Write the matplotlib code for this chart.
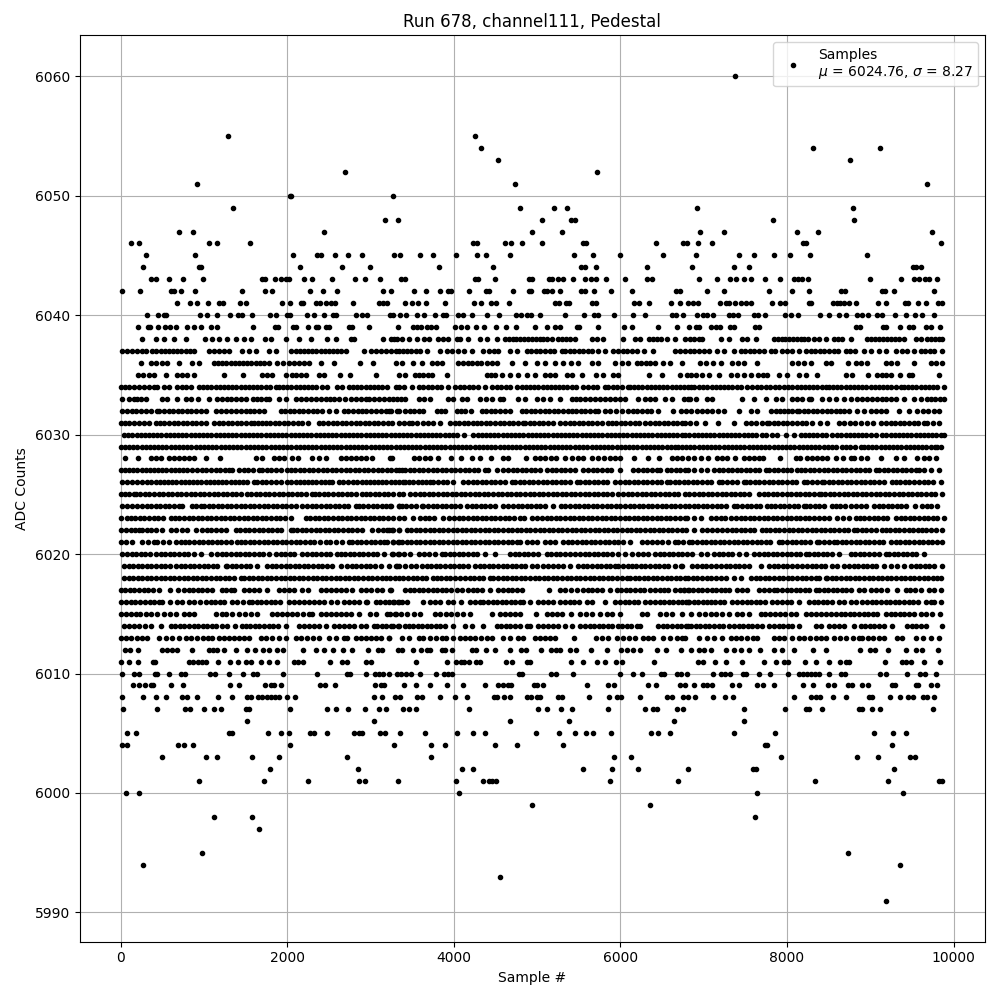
import matplotlib
matplotlib.use('Agg')
import matplotlib.pyplot as plt

# sample numbers, one list per ADC level
adc_6060 = [7380]
adc_6055 = [1292, 4256]
adc_6054 = [4328, 8316, 9120]
adc_6053 = [4532, 8760]
adc_6052 = [2696, 5724]
adc_6051 = [920, 4736, 9684]
adc_6050 = [2028, 2048, 3272]
adc_6049 = [1352, 4796, 5208, 5364, 6924, 8796]
adc_6048 = [3176, 3332, 5064, 5412, 5460, 7836, 8808]
adc_6047 = [704, 872, 2444, 4940, 5304, 6960, 7248, 8124, 8376, 9744]
adc_6046 = [128, 224, 1064, 1160, 1556, 4232, 4280, 4616, 4688, 4820, 5064, 5556, 5592, 6432, 6756, 6804, 6936, 7104, 8196, 8232, 9852]
adc_6045 = [308, 896, 2072, 2360, 2400, 2576, 2732, 2900, 3284, 3356, 3596, 3752, 4028, 4280, 4388, 4676, 5448, 5676, 6000, 6516, 6912, 7428, 7608, 7848, 8040, 8280, 8964]
adc_6044 = [272, 940, 968, 2156, 2660, 2996, 3824, 4472, 5532, 5580, 5712, 6324, 6864, 7368, 7548, 9516, 9552, 9612]
adc_6043 = [368, 420, 584, 752, 992, 1700, 1732, 1856, 1928, 1980, 2020, 2204, 2300, 2540, 2816, 2936, 3116, 3368, 3416, 4256, 4292, 4496, 4900, 4940, 5140, 5180, 5248, 5316, 5436, 5580, 5652, 5712, 5832, 6060, 6324, 6384, 6948, 7164, 7320, 7392, 7488, 7572, 7740, 7920, 8088, 8136, 8184, 8256, 9000, 9372, 9528, 9588, 9660, 9708, 9796]
adc_6042 = [20, 236, 608, 636, 728, 896, 1460, 1736, 1820, 2276, 2432, 2600, 3152, 3240, 3524, 3668, 3836, 3932, 3964, 4184, 4388, 4428, 4712, 4900, 4924, 5084, 5120, 5184, 5280, 5532, 5580, 5688, 5892, 6144, 6672, 6720, 7044, 7248, 7788, 8064, 8268, 8652, 8700, 9144, 9180, 9288, 9768]
adc_6041 = [680, 836, 920, 1052, 1184, 1232, 1436, 1508, 1940, 2036, 2168, 2192, 2348, 2396, 2460, 2528, 2572, 2792, 3104, 3152, 3200, 3416, 3500, 3564, 3668, 3896, 4244, 4328, 4448, 4508, 4664, 5220, 5268, 5352, 5388, 5664, 5712, 6168, 6228, 6348, 6612, 6720, 6816, 6876, 6936, 7200, 7272, 7308, 7380, 7452, 7512, 7572, 7824, 7920, 7980, 8268, 8292, 8556, 8604, 8640, 8688, 8748, 8832, 9096, 9192, 9420, 9456, 9576, 9672, 9816, 9864]
adc_6040 = [320, 452, 524, 548, 956, 1040, 1160, 1316, 1412, 1460, 1580, 1796, 1868, 2000, 2036, 2240, 2324, 2444, 2552, 2588, 2828, 2900, 2960, 3236, 3272, 3356, 3428, 3560, 3644, 3776, 3872, 3908, 4052, 4112, 4220, 4400, 4544, 4748, 4812, 4880, 4932, 5040, 5340, 5568, 5688, 5736, 5928, 6156, 6300, 6624, 6672, 6756, 6924, 6996, 7044, 7116, 7308, 7356, 7416, 7608, 7656, 7740, 7980, 8052, 8136, 8400, 8508, 8628, 8712, 8844, 8904, 8976, 9084, 9144, 9300, 9432, 9540, 9624, 9768]
adc_6039 = [212, 332, 356, 452, 536, 596, 668, 800, 884, 968, 1088, 1160, 1592, 1856, 1892, 2072, 2108, 2252, 2348, 2372, 2468, 2504, 2744, 2780, 2984, 3332, 3512, 3560, 3608, 3680, 3728, 3788, 4016, 4088, 4160, 4268, 4364, 4508, 4628, 4748, 4980, 5124, 5220, 5280, 5484, 5508, 5736, 6048, 6144, 6456, 6684, 6828, 6912, 6948, 7092, 7152, 7200, 7320, 7368, 7620, 7668, 8832, 8880, 9156, 9192, 9360, 9468, 9516, 9672, 9732, 9840]
adc_6038 = [260, 420, 524, 644, 780, 1012, 1096, 1184, 1280, 1380, 1480, 1568, 1728, 1800, 1988, 2140, 2288, 2480, 2588, 2760, 2800, 3152, 3240, 3276, 3320, 3372, 3456, 3560, 3640, 3700, 3816, 3876, 3936, 4036, 4076, 4176, 4316, 4396, 4516, 4616, 4660, 4708, 4752, 4800, 4848, 4892, 4940, 4984, 5030, 5076, 5120, 5176, 5256, 5300, 5350, 5400, 5456, 5656, 5716, 5796, 6036, 6176, 6236, 6340, 6388, 6436, 6484, 6556, 6656, 6776, 6840, 6890, 6940, 6984, 7204, 7304, 7464, 7524, 7624, 7844, 7890, 7936, 7980, 8028, 8072, 8120, 8164, 8210, 8256, 8324, 8384, 8464, 8564, 8612, 8660, 8764, 8964, 9012, 9060, 9108, 9156, 9204, 9252, 9300, 9348, 9404, 9544, 9604, 9684, 9730, 9776, 9820, 9864]
adc_6037 = [20, 80, 140, 200, 250, 300, 380, 430, 480, 530, 580, 630, 680, 730, 780, 830, 880, 1060, 1120, 1180, 1240, 1300, 1452, 1540, 1620, 1780, 1860, 2040, 2100, 2150, 2200, 2250, 2300, 2350, 2400, 2450, 2500, 2550, 2600, 2650, 2700, 2920, 3000, 3060, 3120, 3180, 3240, 3300, 3340, 3390, 3440, 3490, 3540, 3596, 3676, 3836, 3916, 3976, 4056, 4128, 4216, 4356, 4420, 4480, 4536, 4676, 4756, 4876, 4930, 4985, 5040, 5095, 5150, 5205, 5296, 5336, 5390, 5445, 5500, 5555, 5610, 5656, 5736, 5816, 5916, 5976, 6030, 6085, 6140, 6196, 6288, 6396, 6656, 6720, 6780, 6836, 6884, 6950, 7010, 7064, 7164, 7244, 7364, 7444, 7500, 7555, 7610, 7665, 7720, 7804, 7852, 7944, 8004, 8064, 8144, 8224, 8284, 8340, 8395, 8450, 8505, 8560, 8615, 8704, 8756, 8820, 8924, 9004, 9104, 9184, 9304, 9380, 9444, 9524, 9604, 9660, 9715, 9770, 9864]
adc_6036 = [248, 360, 420, 500, 560, 704, 860, 940, 1120, 1170, 1220, 1270, 1320, 1370, 1420, 1470, 1520, 1570, 1620, 1670, 1720, 1780, 1880, 1950, 2020, 2080, 2140, 2200, 2260, 2400, 2564, 2868, 3028, 3300, 3380, 3504, 3616, 3736, 3796, 3856, 4056, 4110, 4165, 4220, 4275, 4330, 4396, 4456, 4516, 4696, 4856, 4996, 5096, 5216, 5316, 5408, 5496, 5656, 5736, 5936, 6016, 6096, 6196, 6250, 6305, 6360, 6416, 6516, 6596, 6736, 6960, 7032, 7112, 7204, 7344, 7414, 7484, 7636, 8064, 8134, 8204, 8284, 8464, 8524, 8732, 8824, 8894, 8964, 9184, 9254, 9324, 9524, 9724, 9790, 9864]
adc_6035 = [212, 270, 335, 400, 540, 680, 740, 800, 880, 1240, 1472, 1700, 1760, 1820, 1988, 2060, 2110, 2160, 2228, 2380, 2440, 2628, 2752, 3060, 3336, 3416, 3536, 3586, 3636, 3686, 3736, 3916, 4396, 4446, 4496, 4576, 4676, 4776, 4876, 4976, 5096, 5156, 5216, 5356, 5416, 5536, 5704, 5796, 5916, 5976, 6344, 6496, 6716, 6796, 6850, 6904, 6984, 7064, 7184, 7324, 7404, 7484, 7564, 7656, 7710, 7764, 7904, 7996, 8144, 8224, 8364, 8704, 8784, 8976, 9084, 9140, 9190, 9244, 9356, 9464, 9504, 9824]
adc_6034 = [8, 50, 100, 160, 220, 280, 340, 400, 440, 520, 580, 680, 735, 790, 840, 940, 990, 1040, 1090, 1140, 1190, 1240, 1290, 1340, 1390, 1440, 1490, 1540, 1590, 1640, 1690, 1740, 1790, 1860, 1900, 1950, 2000, 2050, 2100, 2150, 2200, 2250, 2300, 2350, 2420, 2480, 2600, 2660, 2740, 2790, 2840, 2890, 2940, 2990, 3040, 3090, 3140, 3200, 3300, 3340, 3400, 3496, 3576, 3630, 3685, 3740, 3795, 3850, 3936, 4016, 4070, 4125, 4180, 4235, 4290, 4376, 4456, 4516, 4570, 4625, 4676, 4756, 4816, 4865, 4915, 4965, 5015, 5065, 5115, 5165, 5215, 5265, 5315, 5365, 5415, 5465, 5556, 5616, 5670, 5725, 5816, 5856, 5910, 5965, 6020, 6096, 6116, 6165, 6215, 6265, 6315, 6365, 6415, 6465, 6515, 6565, 6615, 6665, 6715, 6765, 6816, 6844, 6884, 6944, 6995, 7045, 7095, 7145, 7195, 7245, 7295, 7345, 7395, 7445, 7524, 7584, 7635, 7684, 7744, 7800, 7855, 7910, 7964, 8015, 8065, 8115, 8165, 8215, 8265, 8315, 8365, 8415, 8464, 8504, 8555, 8605, 8655, 8705, 8755, 8805, 8855, 8905, 8955, 9005, 9055, 9105, 9155, 9205, 9255, 9305, 9364, 9404, 9455, 9505, 9555, 9605, 9655, 9705, 9755, 9805, 9884]
adc_6033 = [12, 100, 160, 200, 240, 308, 500, 560, 680, 780, 840, 932, 1060, 1160, 1220, 1275, 1330, 1385, 1440, 1500, 1588, 1640, 1690, 1740, 1780, 1900, 1980, 2100, 2160, 2220, 2280, 2340, 2400, 2460, 2510, 2560, 2620, 2690, 2760, 2820, 2880, 2940, 2980, 3040, 3100, 3160, 3220, 3320, 3270, 3360, 3416, 3576, 3646, 3716, 3936, 3996, 4096, 4156, 4316, 4386, 4456, 4556, 4596, 4776, 4856, 4996, 5076, 5156, 5276, 5416, 5466, 5516, 5576, 5636, 5696, 5756, 5816, 5876, 5936, 5996, 6056, 6216, 6296, 6356, 6416, 6536, 6616, 6816, 6764, 6834, 6904, 7044, 7104, 7464, 7604, 7744, 7864, 7944, 8064, 8120, 8175, 8264, 8284, 8424, 8504, 8584, 8684, 8764, 8844, 8904, 8960, 9020, 9080, 9140, 9190, 9244, 9304, 9404, 9524, 9604, 9684, 9724, 9780, 9835, 9884]
adc_6032 = [12, 70, 140, 180, 240, 300, 360, 440, 460, 520, 575, 630, 685, 740, 795, 850, 905, 960, 1020, 1140, 1200, 1260, 1320, 1380, 1440, 1500, 1548, 1600, 1660, 1720, 1920, 1975, 2030, 2085, 2140, 2195, 2250, 2305, 2360, 2415, 2500, 2588, 2680, 2735, 2790, 2845, 2900, 2940, 3000, 3060, 3120, 3180, 3240, 3320, 3216, 3336, 3416, 3470, 3525, 3580, 3636, 3796, 3846, 3896, 4036, 4086, 4136, 4208, 4336, 4390, 4445, 4500, 4555, 4610, 4676, 4816, 4870, 4925, 4980, 5035, 5090, 5145, 5200, 5255, 5310, 5376, 5416, 5470, 5525, 5580, 5635, 5690, 5736, 5816, 5880, 5945, 6016, 6096, 6150, 6205, 6260, 6315, 6370, 6456, 6628, 6728, 6788, 6850, 6920, 6985, 7044, 7104, 7174, 7244, 7424, 7572, 7644, 7804, 7864, 7915, 7965, 8015, 8065, 8124, 8144, 8200, 8255, 8310, 8365, 8420, 8484, 8535, 8590, 8640, 8690, 8744, 8844, 8924, 9004, 9064, 9124, 9184, 9344, 9464, 9564, 9630, 9695, 9764, 9824]
adc_6031 = [0, 50, 100, 160, 220, 280, 340, 420, 470, 520, 580, 635, 690, 745, 800, 855, 910, 965, 1020, 1120, 1175, 1230, 1285, 1340, 1395, 1450, 1505, 1560, 1600, 1650, 1700, 1740, 1795, 1850, 1905, 1960, 2015, 2070, 2125, 2180, 2250, 2380, 2435, 2490, 2545, 2600, 2655, 2710, 2765, 2820, 2875, 2930, 2985, 3040, 3095, 3150, 3205, 3260, 3340, 3400, 3456, 3496, 3560, 3625, 3690, 3756, 3836, 3956, 4010, 4065, 4120, 4175, 4236, 4276, 4330, 4385, 4440, 4495, 4550, 4605, 4660, 4715, 4770, 4836, 4856, 4910, 4965, 5020, 5075, 5130, 5196, 5276, 5336, 5390, 5445, 5500, 5555, 5610, 5665, 5720, 5775, 5856, 5896, 5950, 6005, 6060, 6115, 6170, 6225, 6296, 6356, 6410, 6465, 6520, 6575, 6630, 6685, 6736, 6776, 6840, 6904, 7012, 7172, 7364, 7504, 7565, 7630, 7695, 7764, 7784, 7840, 7895, 7950, 8005, 8060, 8115, 8184, 8224, 8304, 8394, 8484, 8624, 8690, 8755, 8820, 8884, 8964, 9036, 9132, 9190, 9245, 9300, 9355, 9410, 9465, 9520, 9575, 9644, 9684, 9755, 9824]
adc_6030 = [40, 90, 140, 190, 240, 290, 340, 390, 440, 490, 540, 590, 640, 690, 740, 790, 840, 890, 940, 990, 1040, 1090, 1140, 1190, 1240, 1290, 1340, 1390, 1440, 1490, 1540, 1590, 1640, 1690, 1740, 1790, 1840, 1890, 1940, 1990, 2040, 2090, 2140, 2190, 2240, 2290, 2340, 2390, 2440, 2490, 2540, 2590, 2640, 2690, 2740, 2790, 2840, 2890, 2940, 2990, 3040, 3090, 3140, 3190, 3240, 3290, 3340, 3390, 3440, 3490, 3540, 3590, 3640, 3690, 3740, 3790, 3840, 3890, 3940, 3990, 4036, 4128, 4236, 4285, 4335, 4385, 4435, 4485, 4535, 4585, 4635, 4685, 4735, 4785, 4835, 4885, 4935, 4985, 5035, 5085, 5135, 5185, 5235, 5285, 5335, 5385, 5435, 5485, 5535, 5585, 5635, 5685, 5735, 5785, 5835, 5885, 5935, 5985, 6035, 6085, 6135, 6185, 6235, 6285, 6335, 6385, 6435, 6485, 6535, 6585, 6635, 6685, 6736, 6776, 6830, 6880, 6930, 6980, 7030, 7080, 7130, 7180, 7230, 7280, 7330, 7380, 7430, 7480, 7530, 7580, 7630, 7704, 7744, 7824, 7884, 7984, 8084, 8164, 8215, 8265, 8315, 8365, 8415, 8465, 8544, 8604, 8655, 8705, 8755, 8805, 8855, 8905, 8955, 9005, 9064, 9144, 9195, 9245, 9295, 9345, 9395, 9445, 9495, 9545, 9595, 9645, 9695, 9745, 9795, 9845, 9884]
adc_6029 = [0, 50, 100, 150, 200, 250, 300, 350, 400, 450, 500, 550, 600, 650, 700, 750, 800, 850, 900, 950, 1000, 1050, 1100, 1150, 1200, 1250, 1300, 1350, 1400, 1450, 1500, 1550, 1600, 1650, 1700, 1750, 1800, 1850, 1900, 1950, 2000, 2050, 2100, 2150, 2200, 2250, 2300, 2350, 2400, 2450, 2500, 2550, 2600, 2650, 2700, 2750, 2800, 2850, 2900, 2950, 3000, 3050, 3100, 3150, 3200, 3250, 3300, 3350, 3400, 3450, 3500, 3550, 3600, 3650, 3700, 3750, 3800, 3850, 3900, 3950, 4000, 4050, 4100, 4150, 4200, 4250, 4300, 4350, 4400, 4450, 4500, 4550, 4600, 4650, 4700, 4750, 4800, 4850, 4900, 4950, 5000, 5050, 5100, 5150, 5200, 5250, 5300, 5350, 5400, 5450, 5500, 5550, 5600, 5656, 5704, 5755, 5805, 5855, 5905, 5955, 6005, 6055, 6105, 6155, 6205, 6255, 6305, 6355, 6405, 6455, 6505, 6555, 6605, 6655, 6696, 6736, 6790, 6840, 6890, 6940, 6990, 7040, 7090, 7140, 7190, 7240, 7290, 7340, 7390, 7440, 7490, 7540, 7590, 7640, 7690, 7740, 7790, 7840, 7890, 7940, 7990, 8040, 8090, 8140, 8190, 8240, 8290, 8340, 8390, 8440, 8490, 8540, 8590, 8664, 8704, 8760, 8820, 8884, 8924, 8975, 9025, 9075, 9125, 9175, 9225, 9275, 9325, 9375, 9425, 9475, 9525, 9575, 9625, 9675, 9725, 9775, 9804, 9852]
adc_6028 = [52, 212, 360, 420, 480, 580, 640, 700, 760, 820, 880, 1028, 1188, 1620, 1700, 1840, 1900, 1960, 2052, 2132, 2300, 2380, 2468, 2640, 2700, 2760, 2820, 2880, 2940, 3020, 3252, 3236, 3516, 3580, 3650, 3716, 3816, 3968, 4088, 4216, 4316, 4448, 4596, 4656, 4864, 4976, 5040, 5100, 5165, 5230, 5336, 5416, 5486, 5556, 5656, 5730, 5800, 5876, 5936, 5996, 6168, 6328, 6464, 6616, 6680, 6740, 6816, 6880, 6964, 7052, 7164, 7224, 7284, 7372, 7484, 7540, 7600, 7660, 7716, 7916, 8104, 8156, 8244, 8304, 8364, 8424, 8484, 8584, 8672, 8764, 8804, 8884, 8964, 9132, 9304, 9404, 9564, 9640, 9710, 9784]
adc_6027 = [0, 50, 100, 150, 200, 250, 300, 350, 400, 450, 500, 550, 600, 650, 700, 750, 800, 860, 920, 975, 1030, 1085, 1140, 1195, 1250, 1300, 1340, 1420, 1475, 1530, 1590, 1660, 1700, 1755, 1810, 1865, 1920, 2000, 2040, 2095, 2150, 2205, 2260, 2315, 2370, 2425, 2480, 2535, 2590, 2645, 2700, 2755, 2810, 2865, 2920, 2975, 3030, 3085, 3140, 3195, 3250, 3340, 3300, 3376, 3416, 3470, 3525, 3580, 3635, 3690, 3745, 3800, 3855, 3910, 3965, 4020, 4075, 4130, 4185, 4240, 4295, 4376, 4416, 4516, 4596, 4650, 4705, 4760, 4815, 4870, 4925, 4980, 5035, 5116, 5176, 5230, 5285, 5340, 5395, 5450, 5556, 5616, 5670, 5725, 5780, 5835, 5890, 5996, 6156, 6215, 6270, 6325, 6380, 6435, 6476, 6556, 6610, 6665, 6720, 6775, 6816, 6890, 6965, 7044, 7124, 7180, 7235, 7290, 7344, 7396, 7450, 7505, 7560, 7615, 7670, 7744, 7784, 7840, 7895, 7950, 8004, 8044, 8124, 8164, 8220, 8275, 8330, 8385, 8440, 8495, 8550, 8605, 8660, 8715, 8770, 8825, 8880, 8935, 8990, 9064, 9104, 9160, 9215, 9270, 9325, 9380, 9435, 9490, 9544, 9584, 9650, 9724, 9824]
adc_6026 = [12, 70, 130, 200, 260, 320, 370, 420, 470, 520, 570, 620, 670, 720, 770, 820, 870, 920, 970, 1020, 1070, 1120, 1170, 1220, 1270, 1320, 1370, 1420, 1470, 1520, 1600, 1640, 1695, 1750, 1805, 1860, 1920, 2000, 2050, 2100, 2150, 2200, 2250, 2300, 2350, 2400, 2450, 2500, 2540, 2620, 2675, 2730, 2785, 2840, 2895, 2940, 2988, 3040, 3090, 3140, 3190, 3240, 3290, 3340, 3390, 3416, 3456, 3510, 3565, 3620, 3665, 3716, 3756, 3810, 3865, 3920, 3996, 4116, 4170, 4225, 4280, 4335, 4390, 4445, 4500, 4555, 4610, 4696, 4736, 4790, 4845, 4900, 4955, 5010, 5065, 5120, 5175, 5230, 5285, 5340, 5395, 5476, 5516, 5570, 5625, 5680, 5735, 5790, 5845, 5936, 5996, 6050, 6105, 6160, 6215, 6270, 6325, 6380, 6435, 6490, 6556, 6596, 6650, 6705, 6760, 6816, 6870, 6925, 6980, 7035, 7090, 7184, 7224, 7284, 7340, 7395, 7484, 7504, 7560, 7615, 7670, 7725, 7780, 7835, 7890, 7945, 8000, 8055, 8110, 8204, 8244, 8304, 8364, 8424, 8444, 8500, 8555, 8610, 8665, 8720, 8775, 8830, 8885, 8940, 8995, 9050, 9105, 9160, 9264, 9304, 9360, 9415, 9470, 9524, 9584, 9640, 9695, 9750, 9844]
adc_6025 = [0, 50, 100, 160, 180, 235, 290, 345, 400, 455, 510, 565, 620, 675, 730, 785, 840, 895, 950, 1005, 1060, 1115, 1170, 1225, 1280, 1335, 1390, 1445, 1520, 1568, 1620, 1675, 1730, 1785, 1840, 1895, 1950, 2005, 2060, 2115, 2170, 2225, 2300, 2332, 2385, 2440, 2495, 2550, 2605, 2660, 2715, 2770, 2825, 2900, 2940, 2995, 3050, 3105, 3160, 3215, 3270, 3340, 3395, 3476, 3536, 3590, 3645, 3700, 3755, 3810, 3865, 3920, 3975, 4030, 4085, 4140, 4195, 4250, 4305, 4360, 4415, 4470, 4525, 4580, 4635, 4690, 4745, 4800, 4855, 4910, 4965, 5020, 5075, 5130, 5185, 5240, 5295, 5350, 5405, 5460, 5515, 5570, 5625, 5680, 5735, 5790, 5845, 5900, 5976, 6036, 6090, 6145, 6200, 6255, 6310, 6365, 6420, 6475, 6530, 6585, 6640, 6695, 6776, 6830, 6885, 6940, 6995, 7050, 7105, 7160, 7215, 7270, 7325, 7380, 7435, 7490, 7544, 7664, 7720, 7775, 7830, 7885, 7940, 7995, 8050, 8105, 8160, 8215, 8270, 8325, 8384, 8404, 8460, 8515, 8570, 8625, 8680, 8735, 8790, 8845, 8900, 8955, 9010, 9065, 9120, 9175, 9230, 9285, 9340, 9395, 9450, 9505, 9560, 9615, 9670, 9725, 9780, 9864]
adc_6024 = [20, 75, 132, 200, 255, 310, 365, 420, 475, 530, 585, 640, 695, 740, 860, 910, 960, 1000, 1055, 1110, 1165, 1220, 1275, 1330, 1385, 1440, 1495, 1550, 1605, 1660, 1715, 1770, 1825, 1880, 1935, 1990, 2045, 2100, 2180, 2240, 2295, 2350, 2405, 2460, 2515, 2570, 2625, 2680, 2735, 2820, 2860, 2915, 2970, 3025, 3080, 3135, 3190, 3245, 3340, 3236, 3336, 3376, 3430, 3485, 3540, 3616, 3636, 3690, 3745, 3800, 3855, 3910, 3965, 4020, 4075, 4156, 4216, 4270, 4325, 4380, 4435, 4490, 4596, 4656, 4710, 4765, 4820, 4875, 4930, 4985, 5040, 5095, 5196, 5288, 5340, 5395, 5450, 5505, 5560, 5615, 5670, 5725, 5780, 5835, 5890, 5945, 6000, 6055, 6110, 6165, 6220, 6275, 6330, 6385, 6440, 6495, 6550, 6605, 6660, 6715, 6770, 6825, 6880, 6935, 6990, 7045, 7100, 7155, 7210, 7265, 7364, 7404, 7460, 7515, 7570, 7625, 7680, 7764, 7804, 7860, 7915, 7970, 8025, 8080, 8135, 8204, 8224, 8280, 8335, 8390, 8445, 8544, 8584, 8640, 8695, 8764, 8824, 8884, 8944, 9044, 9100, 9155, 9210, 9265, 9320, 9375, 9430, 9532, 9624, 9680, 9735, 9804]
adc_6023 = [0, 80, 120, 175, 230, 285, 340, 395, 450, 505, 600, 652, 705, 760, 815, 870, 925, 980, 1035, 1090, 1145, 1200, 1255, 1310, 1365, 1420, 1475, 1530, 1585, 1640, 1695, 1750, 1805, 1860, 1915, 1970, 2040, 2220, 2275, 2330, 2385, 2440, 2495, 2550, 2605, 2660, 2715, 2770, 2825, 2880, 2935, 2990, 3045, 3100, 3155, 3210, 3265, 3340, 3400, 3504, 3596, 3650, 3705, 3760, 3876, 3944, 4008, 4060, 4115, 4170, 4225, 4280, 4335, 4390, 4445, 4500, 4555, 4610, 4665, 4720, 4796, 4848, 4936, 4996, 5056, 5116, 5170, 5225, 5276, 5336, 5390, 5445, 5500, 5555, 5610, 5665, 5720, 5775, 5830, 5885, 5940, 5995, 6050, 6105, 6160, 6215, 6270, 6325, 6380, 6435, 6490, 6545, 6600, 6655, 6776, 6720, 6800, 6884, 6964, 7092, 7150, 7205, 7260, 7324, 7384, 7444, 7500, 7555, 7610, 7665, 7720, 7775, 7830, 7885, 7940, 7995, 8050, 8105, 8160, 8215, 8270, 8325, 8380, 8444, 8504, 8596, 8670, 8744, 8824, 8876, 8930, 8985, 9040, 9095, 9150, 9205, 9304, 9364, 9420, 9475, 9530, 9585, 9640, 9695, 9750, 9805, 9884]
adc_6022 = [0, 60, 120, 170, 220, 250, 310, 370, 430, 500, 600, 670, 740, 800, 908, 980, 1035, 1090, 1145, 1200, 1268, 1380, 1435, 1490, 1545, 1600, 1655, 1710, 1765, 1820, 1875, 1930, 2040, 2068, 2120, 2175, 2230, 2285, 2340, 2395, 2450, 2505, 2560, 2615, 2670, 2725, 2780, 2835, 2900, 3020, 3092, 3145, 3200, 3255, 3340, 3216, 3275, 3336, 3436, 3490, 3545, 3600, 3655, 3710, 3765, 3820, 3875, 3930, 3985, 4040, 4095, 4150, 4205, 4260, 4315, 4370, 4425, 4480, 4535, 4590, 4645, 4700, 4755, 4810, 4865, 4920, 4975, 5030, 5085, 5140, 5195, 5250, 5305, 5360, 5415, 5470, 5525, 5580, 5635, 5690, 5745, 5800, 5855, 5910, 5965, 6020, 6075, 6130, 6185, 6240, 6295, 6350, 6405, 6460, 6515, 6570, 6625, 6680, 6735, 6790, 6884, 6984, 7044, 7104, 7164, 7224, 7280, 7335, 7390, 7445, 7500, 7555, 7610, 7704, 7744, 7800, 7855, 7910, 7965, 8020, 8075, 8130, 8185, 8240, 8295, 8350, 8405, 8460, 8515, 8570, 8625, 8680, 8735, 8804, 8844, 8900, 8955, 9010, 9065, 9144, 9184, 9240, 9295, 9350, 9405, 9460, 9515, 9570, 9624, 9664, 9730, 9795, 9864]
adc_6021 = [0, 60, 140, 260, 330, 400, 440, 510, 585, 660, 720, 772, 825, 880, 935, 990, 1045, 1100, 1155, 1210, 1265, 1320, 1400, 1440, 1495, 1550, 1605, 1660, 1715, 1770, 1825, 1880, 1935, 1990, 2045, 2100, 2155, 2210, 2268, 2320, 2390, 2460, 2508, 2580, 2660, 2740, 2780, 2835, 2890, 2945, 3000, 3055, 3110, 3160, 3200, 3270, 3340, 3270, 3325, 3380, 3435, 3490, 3545, 3600, 3655, 3710, 3765, 3820, 3875, 3930, 3985, 4040, 4095, 4150, 4205, 4260, 4315, 4370, 4425, 4480, 4535, 4590, 4645, 4700, 4756, 4796, 4876, 4936, 4996, 5096, 5156, 5216, 5316, 5370, 5425, 5480, 5535, 5590, 5645, 5700, 5755, 5810, 5865, 5920, 5975, 6030, 6116, 6256, 6315, 6375, 6435, 6496, 6576, 6656, 6696, 6756, 6824, 6864, 6920, 6975, 7030, 7085, 7140, 7195, 7250, 7305, 7360, 7415, 7470, 7525, 7580, 7635, 7690, 7745, 7800, 7904, 7944, 8000, 8055, 8110, 8165, 8220, 8275, 8364, 8384, 8440, 8500, 8564, 8604, 8660, 8715, 8770, 8825, 8880, 8935, 8990, 9045, 9100, 9155, 9244, 9304, 9360, 9415, 9470, 9525, 9580, 9635, 9690, 9745, 9800, 9864]
adc_6020 = [20, 75, 130, 185, 240, 295, 350, 420, 480, 535, 590, 645, 700, 755, 810, 880, 960, 1080, 1160, 1215, 1270, 1325, 1380, 1435, 1490, 1545, 1600, 1655, 1710, 1780, 1860, 1920, 1975, 2030, 2085, 2180, 2240, 2295, 2350, 2405, 2460, 2515, 2600, 2640, 2695, 2750, 2805, 2860, 2915, 2970, 3025, 3080, 3160, 3260, 3340, 3272, 3330, 3400, 3472, 3576, 3640, 3700, 3770, 3856, 3896, 3950, 4005, 4060, 4115, 4170, 4225, 4280, 4376, 4496, 4676, 4730, 4785, 4840, 4895, 4950, 5016, 5116, 5170, 5225, 5280, 5335, 5390, 5456, 5516, 5570, 5625, 5680, 5735, 5790, 5845, 5900, 5976, 6056, 6136, 6216, 6276, 6336, 6416, 6470, 6525, 6580, 6635, 6690, 6745, 6804, 6864, 6964, 7044, 7124, 7180, 7235, 7290, 7345, 7424, 7504, 7604, 7664, 7720, 7775, 7830, 7885, 7940, 7995, 8050, 8105, 8160, 8224, 8264, 8320, 8375, 8430, 8485, 8540, 8624, 8764, 8820, 8875, 8930, 8985, 9044, 9104, 9184, 9224, 9280, 9335, 9390, 9445, 9500, 9555, 9644]
adc_6019 = [40, 95, 150, 205, 260, 315, 370, 425, 480, 535, 590, 660, 720, 775, 830, 885, 940, 995, 1050, 1105, 1160, 1260, 1280, 1335, 1390, 1445, 1500, 1555, 1640, 1760, 1815, 1870, 1925, 1980, 2035, 2090, 2145, 2200, 2255, 2310, 2365, 2420, 2475, 2540, 2640, 2720, 2775, 2830, 2885, 2940, 2995, 3050, 3120, 3220, 3300, 3340, 3316, 3416, 3480, 3550, 3616, 3676, 3730, 3785, 3840, 3895, 3950, 4005, 4060, 4115, 4176, 4256, 4310, 4365, 4420, 4475, 4530, 4585, 4640, 4695, 4750, 4805, 4860, 4936, 4996, 5076, 5136, 5196, 5256, 5316, 5396, 5496, 5550, 5605, 5660, 5715, 5770, 5825, 5880, 5936, 5976, 6036, 6096, 6136, 6190, 6245, 6300, 6355, 6410, 6465, 6520, 6575, 6656, 6736, 6724, 6864, 6920, 6975, 7030, 7085, 7144, 7204, 7264, 7320, 7375, 7430, 7485, 7544, 7684, 7784, 7840, 7895, 7950, 8005, 8060, 8124, 8184, 8240, 8295, 8350, 8405, 8460, 8544, 8604, 8684, 8744, 8800, 8855, 8910, 8965, 9020, 9075, 9164, 9244, 9324, 9404, 9484, 9544, 9600, 9655, 9710, 9765, 9864]
adc_6018 = [40, 95, 150, 205, 260, 315, 370, 425, 480, 535, 590, 645, 700, 755, 810, 865, 920, 975, 1030, 1085, 1140, 1195, 1250, 1305, 1360, 1440, 1480, 1535, 1590, 1645, 1700, 1755, 1810, 1865, 1920, 1975, 2030, 2085, 2140, 2195, 2250, 2305, 2360, 2415, 2470, 2525, 2580, 2635, 2690, 2745, 2800, 2855, 2910, 2965, 3020, 3075, 3140, 3180, 3235, 3290, 3340, 3395, 3450, 3505, 3560, 3615, 3670, 3756, 3796, 3850, 3905, 3960, 4015, 4076, 4136, 4190, 4245, 4300, 4355, 4436, 4476, 4530, 4585, 4640, 4695, 4750, 4805, 4860, 4915, 4970, 5025, 5080, 5135, 5190, 5245, 5300, 5355, 5410, 5465, 5520, 5575, 5630, 5685, 5740, 5795, 5850, 5905, 5960, 6015, 6076, 6116, 6170, 6225, 6280, 6335, 6390, 6445, 6500, 6555, 6610, 6665, 6720, 6775, 6816, 6870, 6925, 6980, 7035, 7090, 7145, 7204, 7264, 7364, 7444, 7564, 7624, 7680, 7735, 7790, 7845, 7900, 7955, 8010, 8065, 8120, 8175, 8230, 8285, 8344, 8384, 8464, 8484, 8540, 8595, 8650, 8705, 8760, 8815, 8870, 8925, 8980, 9035, 9090, 9145, 9200, 9255, 9310, 9365, 9420, 9475, 9530, 9585, 9640, 9695, 9750, 9805, 9844]
adc_6017 = [0, 55, 110, 165, 220, 275, 330, 385, 460, 592, 692, 760, 815, 870, 925, 980, 1035, 1100, 1220, 1270, 1320, 1360, 1480, 1540, 1600, 1660, 1760, 1900, 1960, 2020, 2080, 2180, 2252, 2400, 2460, 2520, 2580, 2640, 2700, 2780, 2880, 2940, 3000, 3080, 3140, 3240, 3236, 3416, 3470, 3525, 3580, 3635, 3690, 3745, 3800, 3855, 3910, 3965, 4036, 4096, 4176, 4226, 4276, 4336, 4436, 4536, 4590, 4645, 4700, 4755, 4816, 5144, 5276, 5340, 5410, 5476, 5556, 5610, 5665, 5720, 5775, 5876, 5956, 6010, 6065, 6120, 6175, 6230, 6285, 6356, 6416, 6470, 6525, 6576, 6656, 6710, 6765, 6816, 6764, 6820, 6875, 6930, 6985, 7040, 7095, 7150, 7205, 7260, 7304, 7404, 7464, 7524, 7664, 7720, 7780, 7844, 7884, 7940, 7995, 8050, 8105, 8160, 8215, 8270, 8344, 8384, 8440, 8495, 8550, 8605, 8660, 8715, 8770, 8864, 8924, 9004, 9064, 9130, 9204, 9324, 9424, 9480, 9540, 9604, 9704, 9770, 9844]
adc_6016 = [0, 60, 120, 172, 230, 290, 350, 405, 460, 500, 590, 680, 740, 820, 880, 950, 1020, 1080, 1135, 1190, 1240, 1340, 1400, 1470, 1540, 1580, 1635, 1690, 1745, 1800, 1855, 1910, 2020, 2080, 2140, 2200, 2260, 2320, 2380, 2440, 2520, 2600, 2680, 2740, 2800, 2860, 2940, 2960, 3060, 3115, 3170, 3225, 3280, 3340, 3270, 3325, 3380, 3436, 3636, 3716, 3776, 3836, 3936, 3996, 4088, 4196, 4256, 4316, 4356, 4410, 4465, 4520, 4575, 4630, 4685, 4740, 4796, 4836, 4916, 5016, 5076, 5136, 5196, 5276, 5336, 5390, 5445, 5500, 5596, 5656, 5816, 5936, 5996, 6050, 6105, 6160, 6215, 6296, 6356, 6416, 6470, 6525, 6580, 6635, 6690, 6745, 6816, 6784, 6824, 6880, 6935, 6990, 7044, 7084, 7140, 7195, 7250, 7344, 7404, 7460, 7515, 7570, 7625, 7680, 7735, 7824, 7884, 7940, 7995, 8050, 8144, 8264, 8320, 8375, 8430, 8485, 8540, 8624, 8684, 8764, 8824, 8904, 8964, 9020, 9075, 9130, 9185, 9240, 9295, 9350, 9405, 9460, 9515, 9570, 9664, 9724, 9764, 9844]
adc_6015 = [0, 60, 120, 180, 228, 300, 370, 440, 520, 590, 660, 760, 820, 880, 1140, 1220, 1260, 1340, 1420, 1490, 1560, 1640, 1820, 1880, 1940, 2000, 2060, 2120, 2190, 2260, 2300, 2400, 2460, 2520, 2580, 2640, 2700, 2760, 2860, 2988, 3060, 3200, 3300, 3230, 3296, 3370, 3440, 3516, 3596, 3776, 3840, 3905, 3970, 4036, 4116, 4196, 4464, 4556, 4616, 4676, 4736, 4796, 4984, 5116, 5176, 5236, 5296, 5404, 5516, 5586, 5656, 5756, 5836, 5896, 5996, 6256, 6316, 6476, 6546, 6616, 6736, 6852, 6944, 7014, 7084, 7144, 7224, 7304, 7396, 7464, 7544, 7684, 7740, 7800, 7860, 7920, 7980, 8044, 8104, 8224, 8284, 8344, 8404, 8464, 8524, 8584, 8644, 8700, 8755, 8810, 8865, 8920, 8975, 9030, 9085, 9184, 9244, 9300, 9355, 9410, 9465, 9520, 9604, 9664, 9744, 9832]
adc_6014 = [40, 100, 160, 220, 290, 360, 488, 600, 655, 710, 765, 820, 875, 930, 985, 1040, 1095, 1150, 1220, 1280, 1370, 1460, 1500, 1555, 1610, 1665, 1720, 1775, 1830, 1885, 1980, 2140, 2200, 2260, 2320, 2380, 2460, 2560, 2620, 2680, 2740, 2800, 2880, 2940, 3040, 3080, 3135, 3190, 3245, 3340, 3270, 3330, 3416, 3456, 3510, 3565, 3620, 3675, 3730, 3785, 3840, 3895, 3996, 4136, 4216, 4356, 4516, 4570, 4625, 4680, 4735, 4790, 4876, 4916, 5016, 5076, 5136, 5196, 5256, 5336, 5420, 5516, 5576, 5630, 5685, 5740, 5795, 5850, 5905, 5976, 6016, 6075, 6130, 6196, 6236, 6456, 6510, 6565, 6620, 6675, 6730, 6816, 6790, 6850, 6905, 6960, 7015, 7070, 7125, 7180, 7235, 7304, 7364, 7420, 7475, 7530, 7585, 7640, 7695, 7784, 7844, 7900, 7955, 8010, 8064, 8144, 8344, 8404, 8504, 8565, 8625, 8684, 8804, 8884, 8940, 8995, 9050, 9105, 9160, 9264, 9444, 9500, 9555, 9610, 9664, 9856]
adc_6013 = [0, 60, 120, 190, 260, 320, 460, 540, 620, 700, 780, 850, 920, 990, 1050, 1100, 1180, 1240, 1300, 1360, 1420, 1480, 1540, 1680, 1750, 1820, 1900, 1980, 2100, 2170, 2240, 2310, 2380, 2500, 2590, 2680, 2720, 2820, 2880, 2940, 3000, 3060, 3120, 3220, 3216, 3376, 3456, 3576, 3636, 3716, 3786, 3856, 3904, 3996, 4076, 4140, 4200, 4260, 4330, 4396, 4456, 4596, 4676, 4776, 4836, 4976, 5036, 5096, 5156, 5216, 5444, 5704, 5780, 5856, 5956, 6030, 6100, 6176, 6276, 6336, 6396, 6516, 6596, 6676, 6776, 6744, 6944, 7044, 7130, 7224, 7324, 7390, 7450, 7520, 7590, 7644, 7844, 7900, 7960, 8064, 8144, 8210, 8280, 8344, 8404, 8464, 8564, 8640, 8715, 8790, 8864, 8904, 8970, 9030, 9100, 9164, 9324, 9384, 9544, 9630, 9724, 9824]
adc_6012 = [56, 116, 212, 500, 560, 620, 680, 860, 1060, 1110, 1160, 1244, 1388, 1520, 1616, 1712, 1784, 1880, 1952, 2192, 2348, 2444, 2552, 2672, 2780, 2972, 3092, 3140, 3332, 3380, 3512, 3608, 3680, 3716, 3860, 3896, 3980, 4220, 4268, 4388, 4500, 4676, 4808, 4868, 5052, 5172, 5230, 5280, 5400, 5472, 5652, 5844, 6012, 6084, 6156, 6240, 6444, 6552, 6732, 6852, 6948, 7008, 7092, 7272, 7368, 7452, 7548, 7680, 7848, 7944, 8088, 8316, 8472, 8880, 9000, 9060, 9216, 9432, 9552, 9624, 9816]
adc_6011 = [8, 104, 212, 392, 416, 824, 872, 932, 980, 1028, 1172, 1316, 1412, 1508, 1568, 1688, 1784, 1880, 2084, 2132, 2192, 2516, 2660, 2720, 2948, 3008, 3548, 3920, 4028, 4088, 4124, 4184, 4268, 4316, 4628, 4700, 4880, 4916, 5412, 5556, 5724, 5820, 5952, 6024, 6408, 6936, 6996, 7140, 7272, 7464, 7728, 7872, 7968, 8016, 8220, 8352, 8508, 8640, 8712, 8748, 9180, 9384, 9432, 9492, 9648, 9840]
adc_6010 = [20, 164, 224, 416, 440, 584, 728, 776, 1076, 1136, 1304, 1472, 1592, 1640, 1952, 2360, 2720, 2756, 2948, 3056, 3104, 3152, 3224, 3320, 3368, 3428, 3488, 3596, 3788, 3884, 3932, 3980, 4784, 4820, 5164, 5232, 5436, 6000, 6156, 6264, 6492, 6528, 6684, 6732, 6804, 7116, 7212, 7260, 7320, 7476, 7512, 7668, 7800, 8016, 8148, 8196, 8244, 8292, 8340, 8388, 8508, 8652, 8700, 9120, 9192, 9444, 9600, 9660, 9792]
adc_6009 = [152, 224, 296, 368, 392, 608, 752, 1316, 1424, 1736, 1808, 1840, 1928, 2396, 2456, 2576, 3056, 3128, 3164, 3404, 3548, 3716, 3920, 4112, 4376, 4532, 4592, 4652, 4688, 4964, 5000, 5072, 5604, 5856, 5928, 6336, 6432, 6720, 6780, 6888, 6996, 7044, 7104, 7344, 7428, 7644, 7716, 7848, 8196, 8316, 8496, 8568, 8736, 8784, 8904, 8976, 9264, 9300, 9552, 9576, 9732, 9804]
adc_6008 = [20, 272, 428, 548, 740, 800, 920, 1172, 1340, 1520, 1568, 1652, 1700, 1760, 1808, 1856, 1904, 2000, 2096, 3044, 3140, 3296, 3356, 3560, 3620, 3836, 4016, 4160, 4484, 4520, 4604, 4676, 4880, 4928, 5004, 5040, 5256, 5304, 5628, 5868, 5964, 6012, 6240, 6564, 6624, 6756, 6816, 6900, 7116, 7260, 7356, 8088, 8292, 8352, 8400, 8556, 8712, 8988, 9024, 9240, 9360, 9456, 9516, 9636, 9684, 9768]
adc_6007 = [32, 440, 776, 836, 1004, 1124, 1208, 1508, 1544, 2036, 2480, 2588, 2732, 2936, 3104, 3188, 3392, 3464, 3548, 4184, 5016, 5124, 5292, 5424, 5856, 6300, 6396, 6444, 6684, 6756, 7488, 7980, 8232, 8268, 8424, 8868, 8904, 9024, 9120, 9756]
adc_6006 = [1520, 3044, 4676, 5388, 6648, 7488]
adc_6005 = [80, 188, 1304, 1340, 1772, 1928, 2024, 2276, 2324, 2480, 2804, 2864, 2900, 3116, 3176, 3356, 3656, 4040, 4232, 4376, 4992, 5268, 5460, 5592, 5676, 5892, 6372, 6456, 6600, 7368, 7860, 9048, 9276, 9432]
adc_6004 = [20, 80, 692, 764, 872, 2036, 3284, 3728, 3896, 4496, 4760, 5316, 7740, 7764, 9264]
adc_6003 = [500, 1028, 1160, 1580, 1904, 2720, 3728, 5928, 6132, 7932, 8844, 9096, 9480, 9540]
adc_6002 = [1796, 2852, 4100, 4232, 5556, 5904, 6216, 6816, 7596, 7632, 9288]
adc_6001 = [944, 1724, 2252, 2864, 2936, 3332, 4028, 4352, 4424, 4460, 4508, 5880, 6696, 8340, 9216, 9828, 9864]
adc_6000 = [68, 224, 4064, 7644, 9396]
adc_5999 = [4940, 6360]
adc_5998 = [1124, 1580, 7620]
adc_5997 = [1664]
adc_5995 = [980, 8736]
adc_5994 = [272, 9360]
adc_5993 = [4556]
adc_5991 = [9192]

levels = [
    (6060, adc_6060), (6055, adc_6055), (6054, adc_6054), (6053, adc_6053), (6052, adc_6052),
    (6051, adc_6051), (6050, adc_6050), (6049, adc_6049), (6048, adc_6048), (6047, adc_6047),
    (6046, adc_6046), (6045, adc_6045), (6044, adc_6044), (6043, adc_6043), (6042, adc_6042),
    (6041, adc_6041), (6040, adc_6040), (6039, adc_6039), (6038, adc_6038), (6037, adc_6037),
    (6036, adc_6036), (6035, adc_6035), (6034, adc_6034), (6033, adc_6033), (6032, adc_6032),
    (6031, adc_6031), (6030, adc_6030), (6029, adc_6029), (6028, adc_6028), (6027, adc_6027),
    (6026, adc_6026), (6025, adc_6025), (6024, adc_6024), (6023, adc_6023), (6022, adc_6022),
    (6021, adc_6021), (6020, adc_6020), (6019, adc_6019), (6018, adc_6018), (6017, adc_6017),
    (6016, adc_6016), (6015, adc_6015), (6014, adc_6014), (6013, adc_6013), (6012, adc_6012),
    (6011, adc_6011), (6010, adc_6010), (6009, adc_6009), (6008, adc_6008), (6007, adc_6007),
    (6006, adc_6006), (6005, adc_6005), (6004, adc_6004), (6003, adc_6003), (6002, adc_6002),
    (6001, adc_6001), (6000, adc_6000), (5999, adc_5999), (5998, adc_5998), (5997, adc_5997),
    (5995, adc_5995), (5994, adc_5994), (5993, adc_5993), (5991, adc_5991),
]

samples = []
counts = []
for level, row in levels:
    samples.extend(row)
    counts.extend([level] * len(row))

fig, ax = plt.subplots(figsize=(10, 10), dpi=100)
ax.plot(samples, counts, 'k.', label='Samples\n$\\mu$ = 6024.76, $\\sigma$ = 8.27')
ax.set_xlabel('Sample #')
ax.set_ylabel('ADC Counts')
ax.set_title('Run 678, channel111, Pedestal')
ax.grid(True)
ax.legend(loc='upper right')
fig.tight_layout()
fig.subplots_adjust(top=0.965)
fig.savefig('out.png')
